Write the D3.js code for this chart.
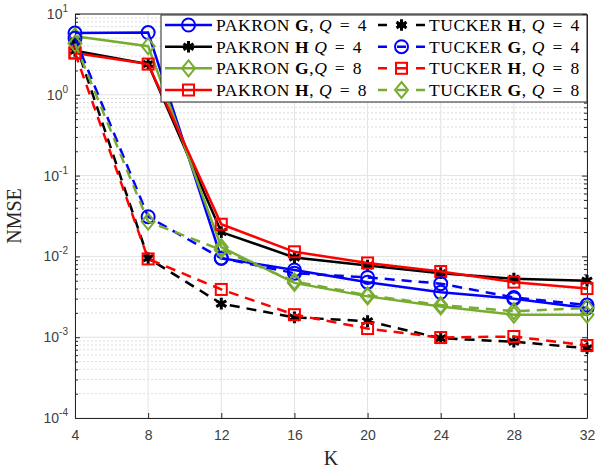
<!DOCTYPE html>
<html>
<head>
<meta charset="utf-8">
<script src="https://cdn.jsdelivr.net/npm/d3@7"></script>
<style>
  body { margin: 0; background: #fff; }
  text { font-kerning: normal; }
</style>
</head>
<body>
<svg id="chart" width="597" height="468"></svg>
<script>
// Number of pilots K on the horizontal axis
const kValues = [4, 8, 12, 16, 20, 24, 28, 32];

// NMSE for each estimator
const pakronG_Q4 = [5.8, 5.9, 0.0095, 0.0068, 0.0048, 0.0036, 0.0030, 0.0023];
const pakronH_Q4 = [3.5, 2.4, 0.020, 0.0097, 0.0077, 0.0062, 0.0053, 0.0050];
const pakronG_Q8 = [5.3, 4.0, 0.013, 0.0047, 0.0032, 0.0024, 0.0019, 0.0019];
const pakronH_Q8 = [3.3, 2.4, 0.025, 0.0114, 0.0083, 0.0065, 0.0048, 0.0040];
const tuckerH_Q4 = [4.5, 0.0095, 0.0026, 0.00176, 0.00158, 0.00097, 0.00088, 0.00073];
const tuckerG_Q4 = [5.0, 0.031, 0.0095, 0.0062, 0.0055, 0.0046, 0.0031, 0.0025];
const tuckerH_Q8 = [3.3, 0.0093, 0.0039, 0.0019, 0.00128, 0.00099, 0.00102, 0.00079];
const tuckerG_Q8 = [4.3, 0.027, 0.012, 0.0049, 0.0033, 0.0025, 0.0021, 0.0023];

// Axis ticks
const xTicks = [4, 8, 12, 16, 20, 24, 28, 32];
const yExponents = [-4, -3, -2, -1, 0, 1];

const BLUE = "#0000ff", BLACK = "#000000", GREEN = "#77ac30", RED = "#ff0000";

// Plot order; the legend lists the first four in the left column
const series = [
  { values: pakronG_Q4, color: BLUE,  dashed: false, marker: "circle",   method: "PAKRON", mat: "G", sep: ", ", q: 4 },
  { values: pakronH_Q4, color: BLACK, dashed: false, marker: "asterisk", method: "PAKRON", mat: "H", sep: " ",  q: 4 },
  { values: pakronG_Q8, color: GREEN, dashed: false, marker: "diamond",  method: "PAKRON", mat: "G", sep: ",",  q: 8 },
  { values: pakronH_Q8, color: RED,   dashed: false, marker: "square",   method: "PAKRON", mat: "H", sep: ", ", q: 8 },
  { values: tuckerH_Q4, color: BLACK, dashed: true,  marker: "asterisk", method: "TUCKER", mat: "H", sep: ", ", q: 4 },
  { values: tuckerG_Q4, color: BLUE,  dashed: true,  marker: "circle",   method: "TUCKER", mat: "G", sep: ", ", q: 4 },
  { values: tuckerH_Q8, color: RED,   dashed: true,  marker: "square",   method: "TUCKER", mat: "H", sep: ", ", q: 8 },
  { values: tuckerG_Q8, color: GREEN, dashed: true,  marker: "diamond",  method: "TUCKER", mat: "G", sep: ", ", q: 8 }
];

const svg = d3.select("#chart");
const m = { left: 75, right: 587, top: 14, bottom: 418 };

const x = d3.scaleLinear().domain([4, 32]).range([m.left, m.right]);
const y = d3.scaleLog().domain([1e-4, 10]).range([m.bottom, m.top]);

const AXIS = "#262626";
const tickFont = "'Liberation Sans', Arial, sans-serif";
const serif = "'Liberation Serif', 'Times New Roman', serif";

// ---- grid ----
const grid = svg.append("g");
const minorVals = [];
yExponents.slice(0, -1).forEach(e => {
  for (let k = 2; k <= 9; k++) minorVals.push(k * Math.pow(10, e));
});
grid.selectAll("line.minor").data(minorVals).join("line")
  .attr("x1", m.left).attr("x2", m.right)
  .attr("y1", d => y(d)).attr("y2", d => y(d))
  .attr("stroke", "#d4d4d4").attr("stroke-width", 0.8)
  .attr("stroke-dasharray", "2,2");
grid.selectAll("line.majY").data(yExponents).join("line")
  .attr("x1", m.left).attr("x2", m.right)
  .attr("y1", d => y(Math.pow(10, d))).attr("y2", d => y(Math.pow(10, d)))
  .attr("stroke", "#e3e3e3").attr("stroke-width", 1);
grid.selectAll("line.majX").data(xTicks).join("line")
  .attr("x1", d => x(d)).attr("x2", d => x(d))
  .attr("y1", m.top).attr("y2", m.bottom)
  .attr("stroke", "#e3e3e3").attr("stroke-width", 1);

// ---- axes ----
const axes = svg.append("g");
const xAxis = d3.axisBottom(x).tickValues(xTicks).tickSizeInner(-5).tickSizeOuter(0).tickPadding(12);
const gx = axes.append("g").attr("transform", `translate(0,${m.bottom})`).call(xAxis);
gx.select(".domain").attr("stroke", AXIS);
gx.selectAll(".tick line").attr("stroke", AXIS);
gx.selectAll(".tick text").attr("fill", "#404040").attr("font-family", tickFont).attr("font-size", 14);

const majorY = yExponents.map(e => Math.pow(10, e));
const gy = axes.append("g").attr("transform", `translate(${m.left},0)`)
  .call(d3.axisLeft(y).tickValues(majorY).tickSizeInner(-5).tickSizeOuter(0).tickFormat(() => ""));
gy.select(".domain").attr("stroke", AXIS);
gy.selectAll(".tick line").attr("stroke", AXIS);
const gyMinor = axes.append("g").attr("transform", `translate(${m.left},0)`)
  .call(d3.axisLeft(y).tickValues(minorVals).tickSizeInner(-3).tickSizeOuter(0).tickFormat(() => ""));
gyMinor.select(".domain").remove();
gyMinor.selectAll(".tick line").attr("stroke", AXIS);

// right side ticks
const gyR = axes.append("g").attr("transform", `translate(${m.right},0)`)
  .call(d3.axisRight(y).tickValues(majorY).tickSizeInner(-5).tickSizeOuter(0).tickFormat(() => ""));
gyR.select(".domain").attr("stroke", AXIS);
gyR.selectAll(".tick line").attr("stroke", AXIS);
const gyRMinor = axes.append("g").attr("transform", `translate(${m.right},0)`)
  .call(d3.axisRight(y).tickValues(minorVals).tickSizeInner(-3).tickSizeOuter(0).tickFormat(() => ""));
gyRMinor.select(".domain").remove();
gyRMinor.selectAll(".tick line").attr("stroke", AXIS);

// top border
axes.append("line").attr("x1", m.left).attr("x2", m.right)
  .attr("y1", m.top).attr("y2", m.top).attr("stroke", AXIS);

// y tick labels as powers of ten
const yLab = axes.selectAll("text.ylab").data(yExponents).join("text")
  .attr("x", m.left - 7).attr("y", d => y(Math.pow(10, d)) + 5)
  .attr("text-anchor", "end").attr("fill", "#404040")
  .attr("font-family", tickFont).attr("font-size", 14);
yLab.append("tspan").text("10");
yLab.append("tspan").attr("dy", -7).attr("font-size", 10).text(d => d < 0 ? "-" + Math.abs(d) : String(d));

// axis titles
svg.append("text").attr("x", (m.left + m.right) / 2).attr("y", 465)
  .attr("text-anchor", "middle").attr("font-family", serif).attr("font-size", 20)
  .attr("fill", "#262626").text("K");
svg.append("text").attr("transform", `translate(21,${(m.top + m.bottom) / 2}) rotate(-90)`)
  .attr("text-anchor", "middle").attr("font-family", serif).attr("font-size", 20)
  .attr("fill", "#262626").text("NMSE");

// ---- markers ----
function drawMarker(g, type, color, cx, cy) {
  const common = el => el.attr("fill", "none").attr("stroke", color).attr("stroke-width", 2);
  if (type === "circle") {
    common(g.append("circle").attr("cx", cx).attr("cy", cy).attr("r", 6.5));
  } else if (type === "square") {
    common(g.append("rect").attr("x", cx - 5.5).attr("y", cy - 5.5).attr("width", 11).attr("height", 11));
  } else if (type === "diamond") {
    common(g.append("path").attr("d", `M${cx},${cy - 8}L${cx + 6.5},${cy}L${cx},${cy + 8}L${cx - 6.5},${cy}Z`));
  } else if (type === "asterisk") {
    g.append("path").attr("transform", `translate(${cx},${cy})`)
      .attr("d", d3.symbol(d3.symbolAsterisk, 95)())
      .attr("fill", "none").attr("stroke", color).attr("stroke-width", 3);
  }
}

// ---- data lines ----
const line = d3.line().x(d => x(d[0])).y(d => y(d[1]));
const plot = svg.append("g");
series.forEach(s => {
  const pts = kValues.map((k, i) => [k, s.values[i]]);
  const g = plot.append("g");
  g.append("path").attr("d", line(pts)).attr("fill", "none")
    .attr("stroke", s.color).attr("stroke-width", 2.5)
    .attr("stroke-dasharray", s.dashed ? "10,7" : null);
  pts.forEach(p => drawMarker(g, s.marker, s.color, x(p[0]), y(p[1])));
});

// ---- legend ----
const lg = svg.append("g");
lg.append("rect").attr("x", 161).attr("y", 15).attr("width", 426).attr("height", 87)
  .attr("fill", "#fff").attr("stroke", "#262626").attr("stroke-width", 1);
const rowY = [25, 46.7, 68.3, 90];
const colX = [165, 378];
series.forEach((s, i) => {
  const col = Math.floor(i / 4), row = i % 4;
  const x0 = colX[col], x1 = x0 + 47, yy = rowY[row];
  const g = lg.append("g");
  g.append("line").attr("x1", x0).attr("x2", x1).attr("y1", yy).attr("y2", yy)
    .attr("stroke", s.color).attr("stroke-width", 2.5)
    .attr("stroke-dasharray", s.dashed ? "9,10" : null);
  drawMarker(g, s.marker, s.color, (x0 + x1) / 2, yy);
  const t = g.append("text").attr("x", x1 + 4).attr("y", yy + 6)
    .attr("font-family", serif).attr("font-size", 17.5).attr("letter-spacing", 0.6)
    .attr("fill", "#000");
  t.append("tspan").text(s.method + " ");
  t.append("tspan").attr("font-weight", "bold").text(s.mat);
  t.append("tspan").text(s.sep);
  t.append("tspan").attr("font-style", "italic").text("Q");
  t.append("tspan").attr("word-spacing", 2.5).text(" = " + s.q);
});
</script>
</body>
</html>
